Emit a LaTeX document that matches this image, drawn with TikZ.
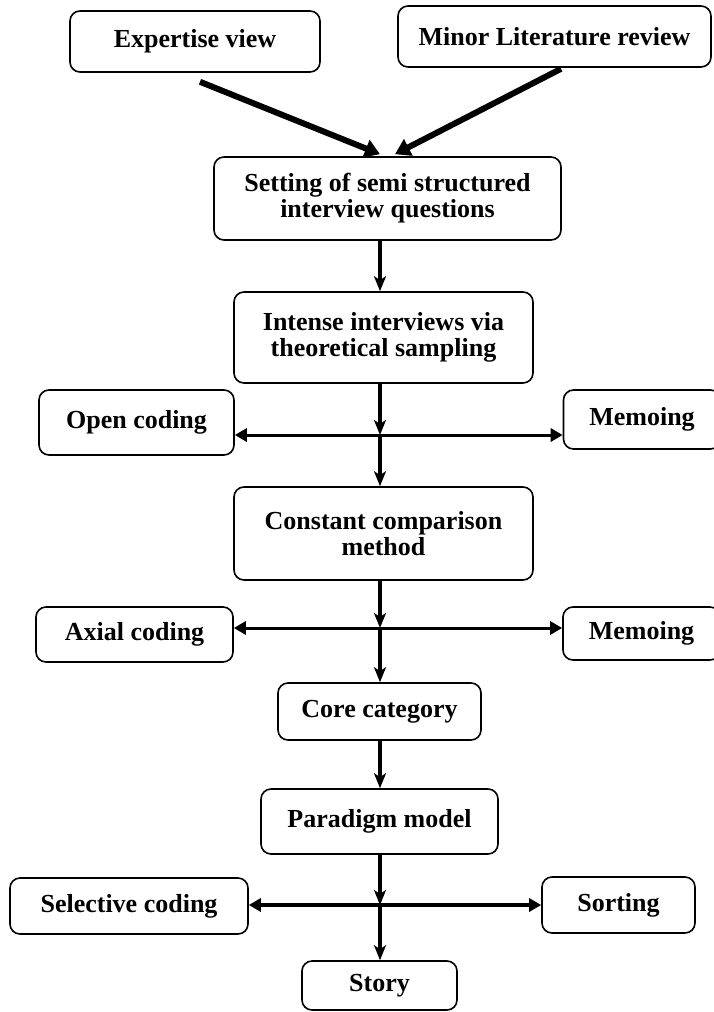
\documentclass[tikz,border=0pt]{standalone}
\usepackage{fontspec}
\setmainfont{Liberation Serif}
\usetikzlibrary{arrows.meta,calc}
\begin{document}
\begin{tikzpicture}[x=1pt,y=-1pt,
  box/.style={draw, line width=1.6pt, rounded corners=10pt, align=center, inner sep=0pt,
    font=\fontsize{26}{26}\selectfont\bfseries},
  diag/.style={line width=6pt, -{Triangle[length=15pt,width=18pt]}},
  vert/.style={line width=3.5pt, -{Stealth[length=15pt,width=12pt,inset=4pt]}},
  horiz/.style={line width=3pt, {Triangle[length=12pt,width=13pt]}-{Triangle[length=12pt,width=13pt]}}]
\useasboundingbox (0,0) rectangle (713,1012);

\node[box, minimum width=250pt, minimum height=61pt] (exp) at (195,41.5) {Expertise view};
\node[box, minimum width=313pt, minimum height=61pt] (minor) at (554.5,36.5) {Minor Literature review};
\node[box, minimum width=347pt, minimum height=83pt] (setting) at (387.5,198.5) {Setting of semi structured\\interview questions};
\node[box, minimum width=299pt, minimum height=91pt] (intense) at (383.5,337.5) {Intense interviews via\\theoretical sampling};
\node[box, minimum width=195pt, minimum height=65pt] (open) at (136.5,422.5) {Open coding};
\node[box, minimum width=157pt, minimum height=59pt] (memoa) at (642,419.5) {Memoing};
\node[box, minimum width=299pt, minimum height=93pt] (constant) at (383.5,533.5) {Constant comparison\\method};
\node[box, minimum width=197pt, minimum height=55pt] (axial) at (134.5,634.5) {Axial coding};
\node[box, minimum width=157pt, minimum height=53pt] (memob) at (641.5,633.5) {Memoing};
\node[box, minimum width=203pt, minimum height=57pt] (core) at (379.5,711.5) {Core category};
\node[box, minimum width=237pt, minimum height=65pt] (paradigm) at (379.5,821.5) {Paradigm model};
\node[box, minimum width=238pt, minimum height=56pt] (selective) at (129,906) {Selective coding};
\node[box, minimum width=153pt, minimum height=56pt] (sorting) at (618.5,905) {Sorting};
\node[box, minimum width=155pt, minimum height=49pt] (story) at (379.5,985.5) {Story};

\coordinate (j1) at (380,435);
\coordinate (j2) at (380,628);
\coordinate (j3) at (380,905);

\draw[diag] ($(exp.south)+(5,9)$) -- ($(setting.north)+(-7.5,-2)$);
\draw[diag] ($(minor.south)+(6.5,1)$) -- ($(setting.north)+(7.5,-2)$);

\draw[vert] (setting.south -| j1) -- (intense.north -| j1);

\draw[horiz] (open.east |- j1) -- (memoa.west |- j1);
\draw[vert] (intense.south -| j1) -- (j1);
\draw[vert] (j1) -- (constant.north -| j1);

\draw[horiz] (axial.east |- j2) -- (memob.west |- j2);
\draw[vert] (constant.south -| j2) -- (j2);
\draw[vert] (j2) -- (core.north -| j2);

\draw[vert] (core.south -| j2) -- (paradigm.north -| j2);

\draw[horiz, line width=3.5pt] (selective.east |- j3) -- (sorting.west |- j3);
\draw[vert] (paradigm.south -| j3) -- (j3);
\draw[vert] (j3) -- (story.north -| j3);
\end{tikzpicture}
\end{document}
